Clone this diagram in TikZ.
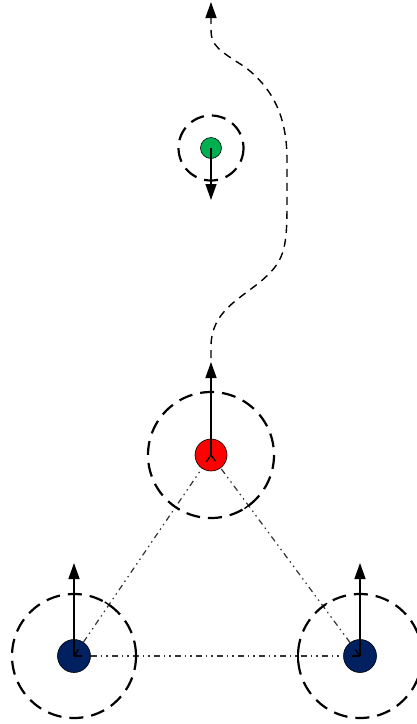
\documentclass[tikz,border=0pt]{standalone}
\usetikzlibrary{arrows.meta,calc}
\definecolor{navyb}{RGB}{0,32,96}
\definecolor{redn}{RGB}{255,0,0}
\definecolor{greenn}{RGB}{0,176,80}
\tikzset{
  ball/.style={circle,draw=black,line width=0.6pt,inner sep=0pt,minimum size=#1},
  zone/.style={draw=black,line width=2.2pt,dash pattern=on 14pt off 8pt},
  vel/.style={line width=1.4pt,-{Triangle[length=16pt,width=11pt]}},
  traj/.style={line width=1.4pt,dash pattern=on 8pt off 6pt,-{Triangle[length=16pt,width=11pt]}},
  link/.style={draw=black!80,line width=1.2pt,dash pattern=on 6pt off 4pt on 1.5pt off 4pt on 1.5pt off 4pt},
  tick/.style={line width=1.4pt},
  stub/.style={line width=1.4pt}
}
\begin{document}
\begin{tikzpicture}[x=1pt,y=-1pt]
\useasboundingbox (0,0) rectangle (417,724);
% nodes
\node[ball=33pt,fill=navyb] (bl) at (74,656) {};
\node[ball=33pt,fill=navyb] (br) at (360,656) {};
\node[ball=32pt,fill=redn] (rd) at (211,455) {};
\node[ball=21pt,fill=greenn] (gr) at (211,148) {};
% zones
\draw[zone] (bl.center) circle (62);
\draw[zone] (br.center) circle (62);
\draw[zone] (rd.center) circle (63);
\draw[zone] (gr.center) circle (32.5);
% links
\draw[link] (bl) -- (br);
\draw[link] (bl) -- (rd);
\draw[link] (br) -- (rd);
% ticks at zone crossings
\foreach \a/\b/\r in {bl/br/62,br/bl/62,bl/rd/62,rd/bl/63,br/rd/62,rd/br/63}{
  \coordinate (c) at ($(\a.center)!\r pt!(\b.center)$);
  \draw[tick] ($(c)!5pt!90:(\b.center)$) -- ($(c)!5pt!-90:(\b.center)$);
  \draw[stub] (\a.center) -- ($(\a.center)!8pt!(\b.center)$);
}
% velocity arrows
\coordinate (blt) at (74,563);
\coordinate (brt) at (360,563);
\coordinate (rdt) at (211,362);
\coordinate (grt) at (211,200);
\coordinate (top) at (211,2);
\draw[vel] (bl.center) -- (blt);
\draw[vel] (br.center) -- (brt);
\draw[vel] (rd.center) -- (rdt);
\draw[vel] (gr.center) -- (grt);
% trajectory
\draw[traj] ($(rdt)+(0,-4)$) -- (211,345) .. controls (212,312) and (238,300) .. (260,282)
  .. controls (284,262) and (287,250) .. (287,205) -- (287,160)
  .. controls (287,115) and (272,88) .. (245,67)
  .. controls (218,50) and (211,45) .. (211,30) -- (top);
\end{tikzpicture}
\end{document}
